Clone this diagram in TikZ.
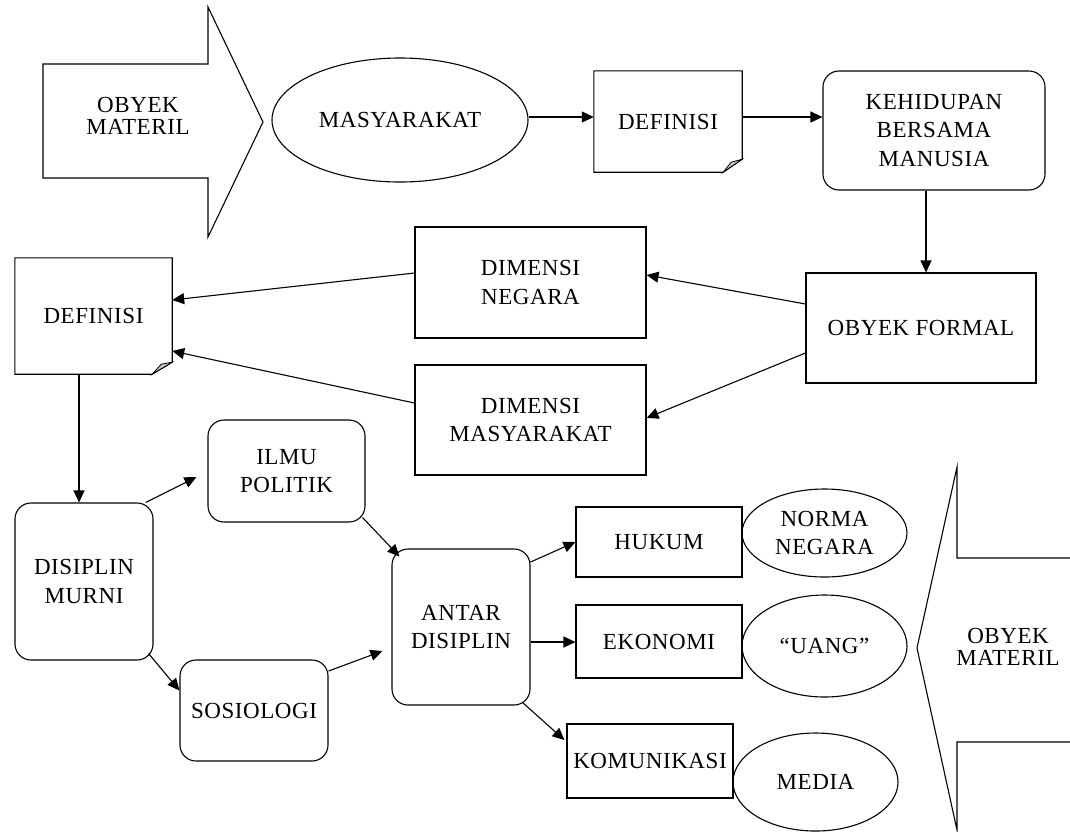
\documentclass[tikz,border=0pt]{standalone}
\usepackage{fontspec}
\newfontfamily\lblfont{Liberation Serif}[LetterSpace=2.5]
\usetikzlibrary{shapes.geometric,arrows.meta}
\begin{document}
\begin{tikzpicture}[x=1pt,y=-1pt]
\tikzset{
  lbl/.style={font=\lblfont\fontsize{23}{28.5}\selectfont, align=center, text=black},
  tight/.style={font=\lblfont\fontsize{23}{22}\selectfont},
  box/.style={lbl, draw, rectangle, inner sep=0pt, line width=1.1pt},
  rbox/.style={box, rounded corners=16pt},
  ell/.style={lbl, draw, ellipse, inner sep=0pt, line width=1.1pt},
  pagebox/.style={lbl, inner sep=0pt},
  arr/.style={line width=1.1pt, -{Triangle[length=12pt,width=11pt]}},
  outline/.style={line width=1.1pt, line join=miter},
  fold/.style={line width=0.8pt, fill=gray!45},
}
\useasboundingbox (0,0) rectangle (1070,831);

% block arrow, top left
\draw[outline] (43,64) -- (208,64) -- (208,7) -- (263,122) -- (208,237) -- (208,178) -- (43,178) -- cycle;
\node[lbl, tight] (om1) at (138,116) {OBYEK\\MATERIL};

% top row
\node[ell, minimum width=256pt, minimum height=124pt] (masy) at (400,120) {MASYARAKAT};
\node[pagebox, minimum width=148pt, minimum height=101pt] (def1) at (668,121.5) {DEFINISI};
\draw[outline] (def1.north west) -- (def1.north east) -- ([yshift=13pt]def1.south east)
  -- ([xshift=-19pt]def1.south east) -- (def1.south west) -- cycle;
\draw[fold] ([yshift=13pt]def1.south east) -- ([shift={(-11pt,10pt)}]def1.south east)
  -- ([xshift=-19pt]def1.south east) -- cycle;
\node[rbox, minimum width=222pt, minimum height=119pt] (keh) at (934,130.5) {KEHIDUPAN\\BERSAMA\\MANUSIA};

% second row
\node[box, minimum width=230pt, minimum height=110pt] (of) at (921,328) {OBYEK FORMAL};
\node[box, minimum width=231pt, minimum height=111pt] (dn) at (530.5,282.5) {DIMENSI\\NEGARA};
\node[box, minimum width=231pt, minimum height=110pt] (dmas) at (530.5,420) {DIMENSI\\MASYARAKAT};
\node[pagebox, minimum width=157pt, minimum height=110pt] (def2) at (93.5,316) {DEFINISI};
\draw[outline] ([yshift=3pt]def2.north west) -- ([yshift=3pt]def2.north east) -- ([yshift=9pt]def2.south east)
  -- ([shift={(-20pt,-3pt)}]def2.south east) -- ([yshift=-3pt]def2.south west) -- cycle;
\draw[fold] ([yshift=9pt]def2.south east) -- ([shift={(-11pt,7pt)}]def2.south east)
  -- ([shift={(-20pt,-3pt)}]def2.south east) -- cycle;

% disciplines
\node[rbox, minimum width=138pt, minimum height=157pt] (dmur) at (84,581.5) {DISIPLIN\\MURNI};
\node[rbox, minimum width=157pt, minimum height=102pt] (ip) at (286.5,471) {ILMU\\POLITIK};
\node[rbox, minimum width=148pt, minimum height=101pt] (sos) at (254,710.5) {SOSIOLOGI};
\node[rbox, minimum width=138pt, minimum height=156pt] (ad) at (461,627) {ANTAR\\DISIPLIN};

% fields and their objects
\node[box, minimum width=166pt, minimum height=70pt] (huk) at (659,542) {HUKUM};
\node[box, minimum width=166pt, minimum height=73pt] (eko) at (659,641.5) {EKONOMI};
\node[box, minimum width=166pt, minimum height=74pt] (kom) at (650,761) {KOMUNIKASI};
\node[ell, minimum width=165pt, minimum height=88pt] (norma) at (824.5,533) {NORMA\\NEGARA};
\node[ell, minimum width=165pt, minimum height=102pt] (uang) at (824.5,646) {“UANG”};
\node[ell, minimum width=165pt, minimum height=98pt] (media) at (815.5,782) {MEDIA};

% block arrow, bottom right
\draw[outline] (1070,558) -- (957,558) -- (957,467) -- (917,648) -- (957,830) -- (957,742) -- (1070,742);
\node[lbl, tight] (om2) at (1008,647) {OBYEK\\MATERIL};

% connectors
\draw[arr] ([yshift=4.5pt]def1.west -| masy.east) -- ([yshift=4.5pt]def1.west);
\draw[arr] ([yshift=4.5pt]def1.east) -- ([yshift=4.5pt]def1.east -| keh.west);
\draw[arr] ([xshift=-8pt]keh.south) -- ([xshift=-8pt]keh.south |- of.north);
\draw[arr] ([yshift=24pt]of.west) -- ([yshift=7.5pt]dn.east);
\draw[arr] ([yshift=-25pt]of.west) -- ([yshift=2pt]dmas.east);
\draw[arr] ([yshift=9.5pt]dn.west) -- ([yshift=16pt]def2.east);
\draw[arr] ([yshift=17pt]dmas.west) -- ([yshift=-35pt]def2.east);
\draw[arr] ([shift={(-14.5pt,-3pt)}]def2.south) -- ([xshift=-14.5pt]def2.south |- dmur.north);
\draw[arr] (dmur.52) -- ([shift={(-11pt,-6pt)}]ip.west);
\draw[arr] ([shift={(-3pt,5pt)}]ip.south east) -- ([shift={(8pt,-8pt)}]ad.north west);
\draw[arr] ([shift={(-5pt,7pt)}]dmur.south east) -- ([yshift=20pt]sos.west);
\draw[arr] ([yshift=39.5pt]sos.east) -- ([shift={(-9pt,-24pt)}]ad.west);
\draw[arr] ([yshift=65pt]ad.east) -- (huk.west);
\draw[arr] ([yshift=-15pt]ad.east) -- ([yshift=-15pt]ad.east -| eko.west);
\draw[arr] ([shift={(-8pt,3pt)}]ad.south east) -- ([shift={(-2pt,21pt)}]kom.west);
\end{tikzpicture}
\end{document}
